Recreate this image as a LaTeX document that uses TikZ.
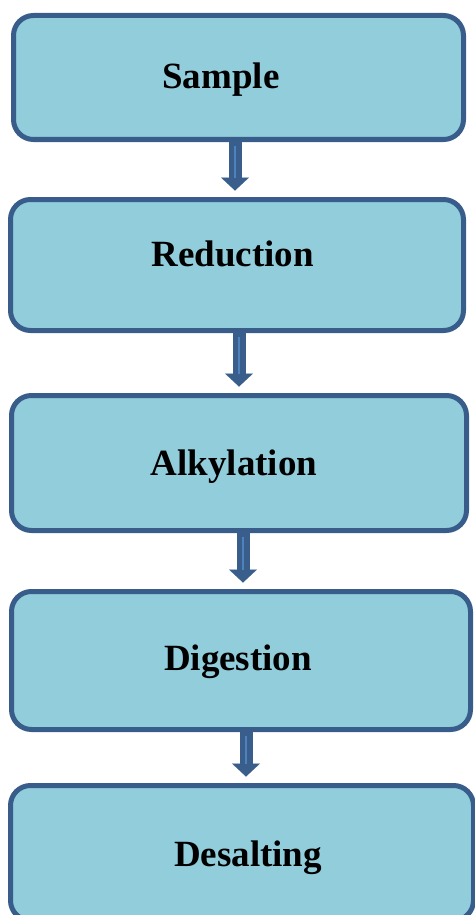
\documentclass[tikz,border=0pt]{standalone}
\usepackage{fontspec}
\setmainfont{Liberation Serif}
\usetikzlibrary{arrows.meta}
\definecolor{boxfill}{HTML}{92CDDC}
\definecolor{boxline}{HTML}{385D8A}
\definecolor{arrowdark}{HTML}{3A5E8C}
\definecolor{arrowlight}{HTML}{4F81BD}
\begin{document}
\begin{tikzpicture}[x=0.5pt,y=-0.5pt,
  stepbox/.style={draw=boxline, fill=boxfill, line width=2.5pt, rounded corners=10pt, outer sep=0pt, inner sep=0pt},
  steptext/.style={anchor=base, inner sep=0pt, font=\fontsize{18.5}{22}\selectfont\bfseries},
  flow/.style={arrowdark, line width=6.5pt, shorten >=4.5pt, -{Triangle[width=14pt,length=6.5pt,line width=0.01pt]}},
  flowlight/.style={arrowlight, line width=1.4pt, shorten <=3pt, shorten >=11pt}]
\clip (0,0) rectangle (475,915);
\node[stepbox, minimum width=225pt, minimum height=62pt](sample) at (238.5, 77.5) {};
\node[stepbox, minimum width=226.5pt, minimum height=65.5pt](reduction) at (237, 265) {};
\node[stepbox, minimum width=227.5pt, minimum height=67.5pt](alkylation) at (239, 463) {};
\node[stepbox, minimum width=229.5pt, minimum height=69pt](digestion) at (241, 660.5) {};
\node[stepbox, minimum width=231.5pt, minimum height=67.5pt](desalting) at (242, 853) {};
\node[steptext](sampletxt) at (221, 89) {Sample};
\node[steptext](reductiontxt) at (232.5, 266) {Reduction};
\node[steptext](alkylationtxt) at (234, 475) {Alkylation};
\node[steptext](digestiontxt) at (238, 670) {Digestion};
\node[steptext](desaltingtxt) at (248, 866) {Desalting};
% arrow starts
\coordinate (a1) at ([xshift=-1.75pt]sample.south);
\coordinate (a2) at ([xshift=1pt]reduction.south);
\coordinate (a3) at ([xshift=2pt]alkylation.south);
\coordinate (a4) at ([xshift=2.5pt]digestion.south);
\draw[flow] (a1) -- (a1 |- reduction.north);
\draw[flow] (a2) -- (a2 |- alkylation.north);
\draw[flow] (a3) -- (a3 |- digestion.north);
\draw[flow] (a4) -- (a4 |- desalting.north);
\draw[flowlight] (a1) -- (a1 |- reduction.north);
\draw[flowlight] (a2) -- (a2 |- alkylation.north);
\draw[flowlight] (a3) -- (a3 |- digestion.north);
\draw[flowlight] (a4) -- (a4 |- desalting.north);
\end{tikzpicture}
\end{document}
